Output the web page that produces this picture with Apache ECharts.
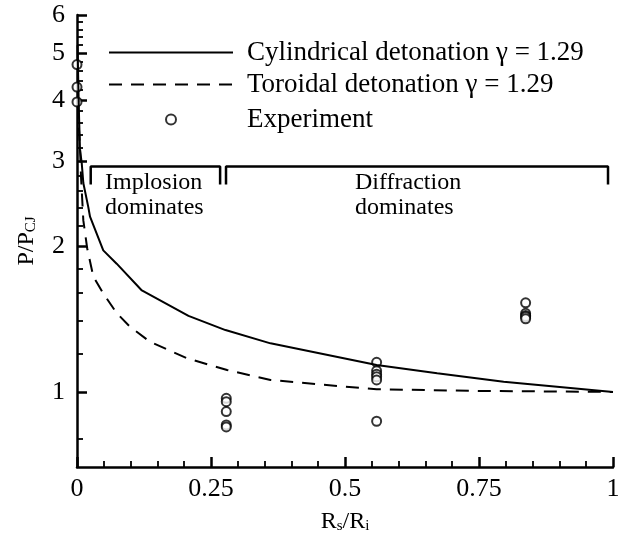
<!DOCTYPE html>
<html>
<head>
<meta charset="utf-8">
<script src="https://cdn.jsdelivr.net/npm/echarts@6/dist/echarts.min.js"></script>
<style>
  html, body { margin: 0; padding: 0; background: #fff; }
  #chart { width: 618px; height: 538px; }
</style>
</head>
<body>
<div id="chart"></div>
<script>
// --- DATA ---
const cylX = [0.001, 0.0025, 0.004, 0.0056, 0.0088, 0.0118, 0.021, 0.0243, 0.049, 0.074, 0.121, 0.208, 0.277, 0.361, 0.559, 0.672, 0.796, 1.0];
const cylY = [5.2, 4.3, 3.64, 3.16, 2.97, 2.70, 2.41, 2.30, 1.96, 1.84, 1.62, 1.436, 1.342, 1.26, 1.137, 1.093, 1.05, 1.0];

const torX = [0.002, 0.003, 0.0056, 0.0075, 0.0118, 0.019, 0.0305, 0.0486, 0.074, 0.099, 0.136, 0.205, 0.280, 0.361, 0.485, 0.559, 0.75, 1.0];
const torY = [3.9, 3.6, 3.2, 2.78, 2.26, 1.98, 1.73, 1.60, 1.455, 1.363, 1.27, 1.174, 1.11, 1.059, 1.029, 1.013, 1.005, 1.0];

const expX = [0, 0, 0, 0.2785, 0.2785, 0.2785, 0.2785, 0.2785, 0.559, 0.559, 0.559, 0.559, 0.559, 0.559, 0.837, 0.837, 0.837, 0.837, 0.837];
const expY = [4.74, 4.26, 3.97, 0.970, 0.955, 0.911, 0.855, 0.847, 1.151, 1.106, 1.088, 1.075, 1.059, 0.870, 1.528, 1.453, 1.439, 1.430, 1.416];

const xLabels = [0, 0.25, 0.5, 0.75, 1];
const xMinor = [0.05, 0.1, 0.15, 0.2, 0.3, 0.35, 0.4, 0.45, 0.55, 0.6, 0.65, 0.7, 0.8, 0.85, 0.9, 0.95];
const yLabels = [1, 2, 3, 4, 5, 6];
const yMinor = [0.8, 1.2, 1.4, 1.6, 1.8, 2.2, 2.4, 2.6, 2.8, 3.2, 3.4, 3.6, 3.8, 4.2, 4.4, 4.6, 4.8, 5.2, 5.4, 5.6, 5.8];

const implosionBracket = [[0.0256, 2.68], [0.0256, 2.92], [0.267, 2.92], [0.267, 2.68]];
const diffractionBracket = [[0.278, 2.68], [0.278, 2.92], [0.9907, 2.92], [0.9907, 2.68]];

const names = ['Cylindrical detonation \u03b3 = 1.29', 'Toroidal detonation \u03b3 = 1.29', 'Experiment'];

// --- CHART ---
const font = 'Liberation Serif, Times New Roman, serif';
const zip = (xs, ys) => xs.map((x, i) => [x, ys[i]]);
const chart = echarts.init(document.getElementById('chart'));

// two grids on the same box: the second one only carries the short (minor) ticks
const gridBox = { left: 77, right: 5, top: 15, bottom: 71, outerBoundsMode: 'none' };
const subTitle = {
    n: { fontFamily: font, fontSize: 24, color: '#000' },
    s: { fontFamily: font, fontSize: 15, color: '#000', padding: [10, 0, 0, 0] }
};
const majorTick = (vals) => ({ show: true, inside: true, length: 10, customValues: vals, lineStyle: { color: '#000', width: 2.5 } });
const minorTick = (vals) => ({ show: true, inside: true, length: 6, customValues: vals, lineStyle: { color: '#000', width: 1.8 } });

const option = {
    animation: false,
    textStyle: { fontFamily: font, color: '#000' },
    grid: [gridBox, Object.assign({}, gridBox)],
    legend: [
        {
            orient: 'vertical', left: 103, top: 34,
            itemWidth: 124, itemHeight: 14, itemGap: 5,
            itemStyle: { opacity: 0 },
            data: [names[0], names[1]],
            textStyle: { fontFamily: font, fontSize: 27, color: '#000', padding: [0, 0, 0, 9] }
        },
        {
            left: 160, top: 101,
            itemWidth: 10, itemHeight: 10,
            data: [names[2]],
            textStyle: { fontFamily: font, fontSize: 27, color: '#000', padding: [0, 0, 0, 66] }
        }
    ],
    xAxis: [
        {
            type: 'value', gridIndex: 0, min: 0, max: 1, interval: 0.25,
            name: '{n|R}{s|s}{n|/R}{s|i}', nameLocation: 'middle', nameGap: 42,
            nameTextStyle: { rich: subTitle },
            axisLine: { show: true, onZero: false, lineStyle: { color: '#000', width: 2.5 } },
            axisTick: majorTick(xLabels),
            axisLabel: { fontFamily: font, fontSize: 26, color: '#000', margin: 9,
                customValues: xLabels, formatter: v => String(v) },
            splitLine: { show: false }
        },
        {
            type: 'value', gridIndex: 1, min: 0, max: 1, interval: 0.25,
            axisLine: { show: false, onZero: false },
            axisTick: minorTick(xMinor),
            axisLabel: { show: false },
            splitLine: { show: false }
        }
    ],
    yAxis: [
        {
            type: 'log', gridIndex: 0, min: 0.7, max: 6, logBase: 10,
            name: '{n|P/P}{s|CJ}', nameLocation: 'middle', nameGap: 38, nameRotate: 90,
            nameTextStyle: { rich: subTitle },
            axisLine: { show: true, lineStyle: { color: '#000', width: 2.5 } },
            axisTick: majorTick(yLabels),
            axisLabel: { fontFamily: font, fontSize: 26, color: '#000', margin: 12,
                customValues: yLabels, formatter: v => String(Math.round(v)) },
            splitLine: { show: false }
        },
        {
            type: 'log', gridIndex: 1, min: 0.7, max: 6, logBase: 10,
            axisLine: { show: false },
            axisTick: minorTick(yMinor),
            axisLabel: { show: false },
            splitLine: { show: false }
        }
    ],
    series: [
        {
            name: names[0], type: 'line', data: zip(cylX, cylY),
            symbol: 'none', lineStyle: { color: '#000', width: 2, type: 'solid' },
            itemStyle: { color: '#000' }
        },
        {
            name: names[1], type: 'line', data: zip(torX, torY),
            symbol: 'none', lineStyle: { color: '#000', width: 2, type: [13, 9] },
            itemStyle: { color: '#000' }
        },
        {
            name: names[2], type: 'scatter', data: zip(expX, expY),
            symbol: 'emptyCircle', symbolSize: 9,
            itemStyle: { color: '#000', borderColor: '#000', borderWidth: 1.3 }
        },
        {
            name: 'implosion', type: 'line', data: implosionBracket, symbol: 'none', silent: true,
            lineStyle: { color: '#000', width: 2.5 }
        },
        {
            name: 'diffraction', type: 'line', data: diffractionBracket, symbol: 'none', silent: true,
            lineStyle: { color: '#000', width: 2.5 }
        }
    ],
    graphic: [
        { type: 'text', left: 105, top: 170, style: { text: 'Implosion\ndominates', font: '24px ' + font, fill: '#000', lineHeight: 25, align: 'left' } },
        { type: 'text', left: 355, top: 170, style: { text: 'Diffraction\ndominates', font: '24px ' + font, fill: '#000', lineHeight: 25, align: 'center' } }
    ]
};

chart.setOption(option);
</script>
</body>
</html>
